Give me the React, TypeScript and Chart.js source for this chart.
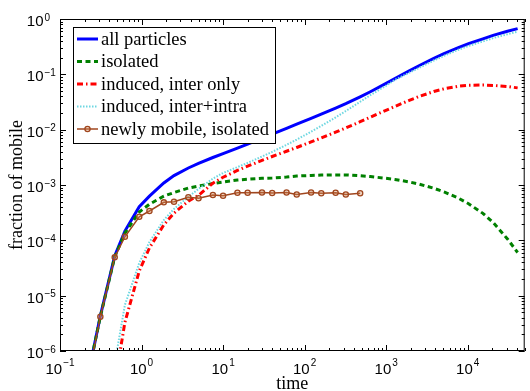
import React, { useEffect, useRef } from 'react';
import { Chart, registerables } from 'chart.js';

Chart.register(...registerables);

// sample times
const times = [0.234375, 0.3125, 0.46875, 0.625, 0.9375, 1.25, 1.875, 2.5, 3.75, 5, 7.5, 10, 15, 20, 30, 40, 60, 80, 120, 160, 240, 320, 480, 640, 960, 1280, 1920, 2560, 3840, 5120, 7680, 10240, 15360, 20480, 30720, 40960];

const allParticles = [5.5e-7, 4.3e-6, 5.2e-5, 1.47e-4, 4.05e-4, 6.3e-4, 1.09e-3, 1.48e-3, 2.03e-3, 2.45e-3, 3.14e-3, 3.7e-3, 4.63e-3, 5.46e-3, 6.97e-3, 8.28e-3, 1.057e-2, 1.256e-2, 1.603e-2, 1.905e-2, 2.449e-2, 2.951e-2, 3.917e-2, 4.842e-2, 6.637e-2, 8.356e-2, 0.1156, 0.1445, 0.195, 0.2371, 0.3048, 0.3581, 0.4385, 0.505, 0.6, 0.67];

const isolated = [5.5e-7, 4.2e-6, 5.0e-5, 1.35e-4, 3.25e-4, 4.5e-4, 6.3e-4, 7.3e-4, 8.8e-4, 9.6e-4, 1.06e-3, 1.13e-3, 1.23e-3, 1.27e-3, 1.32e-3, 1.34e-3, 1.39e-3, 1.45e-3, 1.49e-3, 1.51e-3, 1.52e-3, 1.52e-3, 1.47e-3, 1.42e-3, 1.33e-3, 1.26e-3, 1.138e-3, 1.035e-3, 8.73e-4, 7.52e-4, 5.79e-4, 4.6e-4, 3.07e-4, 2.11e-4, 1.06e-4, 6.03e-5];

const interOnly = [null, null, 2.5e-7, 3.3e-6, 2.8e-5, 7.3e-5, 1.9e-4, 3.1e-4, 5.1e-4, 6.5e-4, 1.08e-3, 1.38e-3, 1.832e-3, 2.188e-3, 2.78e-3, 3.273e-3, 4.074e-3, 4.764e-3, 5.998e-3, 7.079e-3, 9.016e-3, 1.076e-2, 1.393e-2, 1.679e-2, 2.188e-2, 2.63e-2, 3.388e-2, 3.999e-2, 4.898e-2, 5.47e-2, 6.095e-2, 6.339e-2, 6.427e-2, 6.31e-2, 6.026e-2, 5.689e-2];

const interIntra = [null, null, 5.9e-7, 6.8e-6, 3.9e-5, 9.3e-5, 2.33e-4, 3.7e-4, 6.1e-4, 8.5e-4, 1.3e-3, 1.65e-3, 2.104e-3, 2.512e-3, 3.266e-3, 3.972e-3, 5.321e-3, 6.622e-3, 9.162e-3, 1.167e-2, 1.667e-2, 2.173e-2, 3.192e-2, 4.207e-2, 6.026e-2, 7.943e-2, 0.1072, 0.1318, 0.1778, 0.2163, 0.278, 0.3251, 0.3936, 0.4519, 0.5309, 0.5916];

const newlyTimes = [0.234375, 0.3125, 0.46875, 0.625, 0.9375, 1.25, 1.875, 2.5, 3.75, 5, 7.5, 10, 15, 20, 30, 40, 60, 80, 120, 160, 240, 320, 480];
const newlyMobile = [5e-7, 4.17e-6, 4.93e-5, 1.16e-4, 2.67e-4, 3.39e-4, 4.86e-4, 4.99e-4, 6.0e-4, 5.75e-4, 6.6e-4, 6.4e-4, 7.26e-4, 7.26e-4, 7.3e-4, 7.17e-4, 7.3e-4, 6.73e-4, 7.3e-4, 7.08e-4, 7.26e-4, 6.73e-4, 7.08e-4];

const seriesLabels = ['all particles', 'isolated', 'induced, inter only', 'induced, inter+intra', 'newly mobile, isolated'];
const xTickExponents = [-1, 0, 1, 2, 3, 4];
const yTickExponents = [-6, -5, -4, -3, -2, -1, 0];
const xTitle = 'time';
const yTitle = 'fraction of mobile';

const SERIF = '"Liberation Serif", "Times New Roman", serif';
const SANS = '"Liberation Sans", Arial, Helvetica, sans-serif';

const toPoints = (xs: number[], ys: (number | null)[]) => xs.map((x, i) => ({ x, y: ys[i] }));

const axesPlugin = {
  id: 'matlabAxes',
  afterDatasetsDraw(chart: any) {
    const ctx = chart.ctx;
    const { left, right, top, bottom } = chart.chartArea;
    const xs = chart.scales.x;
    const ys = chart.scales.y;
    ctx.save();
    ctx.strokeStyle = '#000';
    ctx.lineWidth = 1;
    ctx.strokeRect(left + 0.5, top + 0.5, right - left - 1, bottom - top - 1);
    ctx.beginPath();
    for (let e = -1; e <= 4; e++) {
      for (let m = 1; m <= 9; m++) {
        const v = m * Math.pow(10, e);
        if (v < xs.min || v > xs.max) continue;
        const px = Math.round(xs.getPixelForValue(v)) + 0.5;
        const len = m === 1 ? 6 : 3;
        ctx.moveTo(px, bottom);
        ctx.lineTo(px, bottom - len);
        ctx.moveTo(px, top);
        ctx.lineTo(px, top + len);
      }
    }
    for (let e = -6; e <= 0; e++) {
      for (let m = 1; m <= 9; m++) {
        const v = m * Math.pow(10, e);
        if (v < ys.min || v > ys.max + 1e-12) continue;
        const py = Math.round(ys.getPixelForValue(v)) + 0.5;
        const len = m === 1 ? 6 : 3;
        ctx.moveTo(left, py);
        ctx.lineTo(left + len, py);
        ctx.moveTo(right, py);
        ctx.lineTo(right - len, py);
      }
    }
    ctx.stroke();

    ctx.fillStyle = '#000';
    ctx.textBaseline = 'alphabetic';
    const big = '15px ' + SANS;
    const small = '10px ' + SANS;
    const expText = (e: number) => (e < 0 ? '\u2212' + Math.abs(e) : String(e));
    xTickExponents.forEach((e) => {
      const px = xs.getPixelForValue(Math.pow(10, e));
      ctx.font = big;
      const w1 = ctx.measureText('10').width;
      ctx.font = small;
      const et = expText(e);
      const w2 = ctx.measureText(et).width;
      const total = w1 + 1 + w2;
      const x0 = px - total / 2;
      ctx.textAlign = 'left';
      ctx.font = big;
      ctx.fillText('10', x0, 374);
      ctx.font = small;
      ctx.fillText(et, x0 + w1 + 1, 365.5);
    });
    yTickExponents.forEach((e) => {
      const py = ys.getPixelForValue(Math.pow(10, e));
      ctx.font = big;
      ctx.textAlign = 'right';
      ctx.fillText('10', 43.5, py + 7);
      ctx.font = small;
      ctx.textAlign = 'left';
      ctx.fillText(expText(e), 44.5, py + 1.5);
    });
    ctx.restore();
  },
  afterDraw(chart: any) {
    const ctx = chart.ctx;
    const bx = 73.5, by = 27.5, bw = 202, bh = 116;
    ctx.save();
    ctx.fillStyle = '#fff';
    ctx.fillRect(bx, by, bw, bh);
    ctx.strokeStyle = '#000';
    ctx.lineWidth = 1;
    ctx.strokeRect(bx, by, bw, bh);
    chart.data.datasets.forEach((ds: any, i: number) => {
      const y = 39 + i * 22.5;
      ctx.save();
      ctx.strokeStyle = ds.borderColor;
      ctx.lineWidth = ds.borderWidth;
      ctx.setLineDash(ds.borderDash || []);
      ctx.beginPath();
      ctx.moveTo(77, y);
      ctx.lineTo(98, y);
      ctx.stroke();
      ctx.setLineDash([]);
      if (ds.pointRadius > 0) {
        ctx.beginPath();
        ctx.arc(87.5, y, ds.pointRadius, 0, Math.PI * 2);
        ctx.fillStyle = ds.pointBackgroundColor;
        ctx.fill();
        ctx.lineWidth = ds.pointBorderWidth;
        ctx.strokeStyle = ds.pointBorderColor;
        ctx.stroke();
      }
      ctx.restore();
      ctx.fillStyle = '#000';
      ctx.font = '18.5px ' + SERIF;
      ctx.textAlign = 'left';
      ctx.textBaseline = 'middle';
      ctx.fillText(ds.label, 101, y + 1);
    });
    ctx.restore();
  },
};

export default function App() {
  const ref = useRef<HTMLCanvasElement>(null);
  useEffect(() => {
    const canvas = ref.current;
    if (!canvas) return;
    const chart = new Chart(canvas, {
      type: 'line',
      data: {
        datasets: [
          {
            label: seriesLabels[0],
            data: toPoints(times, allParticles),
            borderColor: '#0000ff',
            borderWidth: 3,
            pointRadius: 0,
            order: 5,
          },
          {
            label: seriesLabels[1],
            data: toPoints(times, isolated),
            borderColor: '#008000',
            borderWidth: 3,
            borderDash: [5, 3.5],
            pointRadius: 0,
            order: 4,
          },
          {
            label: seriesLabels[2],
            data: toPoints(times, interOnly),
            borderColor: '#ff0000',
            borderWidth: 3,
            borderDash: [6, 3, 1.5, 3],
            pointRadius: 0,
            order: 3,
          },
          {
            label: seriesLabels[3],
            data: toPoints(times, interIntra),
            borderColor: 'rgb(110,215,225)',
            borderWidth: 2,
            borderDash: [1.5, 1.5],
            pointRadius: 0,
            order: 2,
          },
          {
            label: seriesLabels[4],
            data: toPoints(newlyTimes, newlyMobile),
            borderColor: '#a0461e',
            borderWidth: 1.5,
            pointRadius: 2.6,
            pointBorderWidth: 1.3,
            pointBorderColor: '#a0461e',
            pointBackgroundColor: 'rgba(215,140,90,0.35)',
            order: 1,
          },
        ] as any,
      },
      options: {
        responsive: false,
        animation: false,
        devicePixelRatio: 1,
        layout: { padding: { top: 19, right: 1, left: 0, bottom: 0 } },
        plugins: { legend: { display: false }, tooltip: { enabled: false } },
        elements: { line: { tension: 0 } },
        scales: {
          x: {
            type: 'logarithmic',
            min: 0.1,
            max: 5e4,
            grid: { display: false },
            border: { display: false },
            ticks: { display: false },
            title: {
              display: true,
              text: xTitle,
              color: '#000',
              font: { family: SERIF, size: 18, lineHeight: 0.8 },
              padding: { top: 0, bottom: 0 },
            },
            afterFit: (s: any) => {
              s.height = 40;
            },
          },
          y: {
            type: 'logarithmic',
            min: 1e-6,
            max: 1,
            grid: { display: false },
            border: { display: false },
            ticks: { display: false },
            title: {
              display: true,
              text: yTitle,
              color: '#000',
              font: { family: SERIF, size: 18, lineHeight: 1.2 },
              padding: { top: 6, bottom: 0 },
            },
            afterFit: (s: any) => {
              s.width = 60;
            },
          },
        },
      } as any,
      plugins: [axesPlugin],
    });
    return () => chart.destroy();
  }, []);
  return (
    <div style={{ position: 'absolute', left: 0, top: 0, width: 530, height: 391, background: '#fff' }}>
      <canvas ref={ref} width={530} height={391} style={{ display: 'block', width: 530, height: 391 }} />
    </div>
  );
}
